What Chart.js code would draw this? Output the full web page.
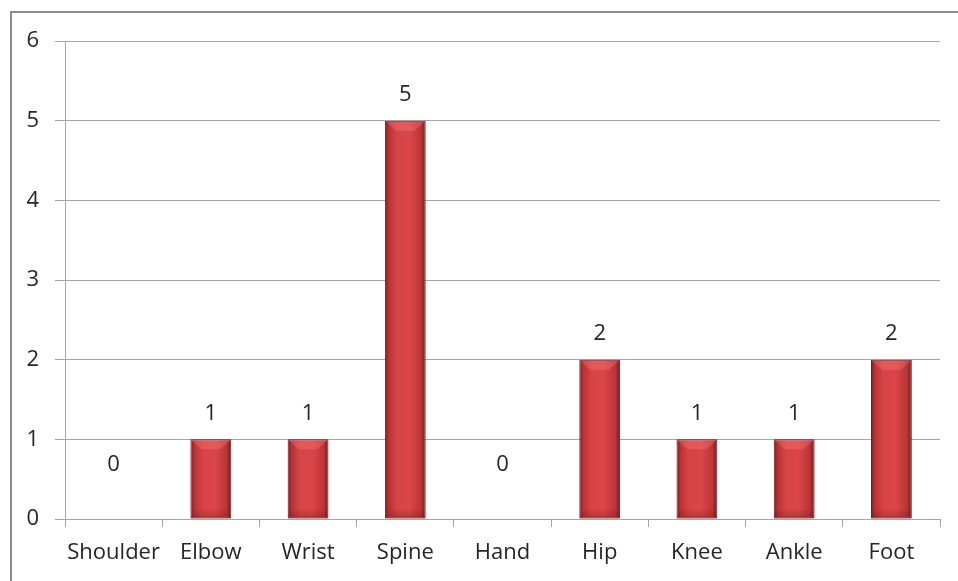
<!DOCTYPE html>
<html>
<head>
<meta charset="utf-8">
<script src="https://cdn.jsdelivr.net/npm/chart.js@4.4.1/dist/chart.umd.min.js"></script>
<style>
  html, body { margin: 0; padding: 0; background: #ffffff; }
  #wrap { position: relative; width: 958px; height: 581px; }
  canvas { display: block; }
</style>
</head>
<body>
<div id="wrap"><canvas id="c" width="958" height="581"></canvas></div>
<script>
// Fracture counts by body region
const categories = ['Shoulder', 'Elbow', 'Wrist', 'Spine', 'Hand', 'Hip', 'Knee', 'Ankle', 'Foot'];
const counts = [0, 1, 1, 5, 0, 2, 1, 1, 2];
const yTicks = [0, 1, 2, 3, 4, 5, 6];

const FONT = '"Open Sans", "DejaVu Sans", sans-serif';
const FONT_SIZE = 22;
const TEXT = '#262626';
const GRID = '#a6a6a6';
const BAR_PCT = 0.42;

// Outer frame (top and left edges of the chart box)
const framePlugin = {
  id: 'frame',
  beforeDraw(chart) {
    const ctx = chart.ctx;
    ctx.save();
    ctx.fillStyle = '#ffffff';
    ctx.fillRect(0, 0, chart.width, chart.height);
    ctx.strokeStyle = '#8c8c8c';
    ctx.lineWidth = 2;
    ctx.beginPath();
    ctx.moveTo(11, chart.height + 2);
    ctx.lineTo(11, 12);
    ctx.lineTo(chart.width + 2, 12);
    ctx.stroke();
    ctx.restore();
  }
};

// Horizontal shading across each bar, darker at the edges
function barFill(context) {
  const chart = context.chart;
  const xs = chart.scales.x;
  if (!xs || xs.width === undefined) return '#c0393b';
  const cx = xs.getPixelForValue(context.dataIndex);
  const w = xs.width / categories.length * BAR_PCT;
  const l = cx - w / 2, r = cx + w / 2;
  const g = chart.ctx.createLinearGradient(l, 0, r, 0);
  g.addColorStop(0, '#841a1c');
  g.addColorStop(0.1, '#b83436');
  g.addColorStop(0.3, '#d64446');
  g.addColorStop(0.6, '#db4648');
  g.addColorStop(0.88, '#bb3537');
  g.addColorStop(1, '#7e1719');
  return g;
}

// Bevelled top and darker base on each bar
const bevelPlugin = {
  id: 'bevel',
  afterDatasetsDraw(chart) {
    const ctx = chart.ctx;
    const meta = chart.getDatasetMeta(0);
    meta.data.forEach(el => {
      const h = el.base - el.y;
      if (h < 2) return;
      const l = el.x - el.width / 2, r = el.x + el.width / 2;
      ctx.save();
      const bev = Math.min(10, h / 3);
      ctx.fillStyle = 'rgba(255,150,150,0.25)';
      ctx.beginPath();
      ctx.moveTo(l + 1, el.y + 1);
      ctx.lineTo(r - 1, el.y + 1);
      ctx.lineTo(r - 1 - bev, el.y + bev);
      ctx.lineTo(l + 1 + bev, el.y + bev);
      ctx.closePath();
      ctx.fill();
      const gb = ctx.createLinearGradient(0, el.base - 10, 0, el.base);
      gb.addColorStop(0, 'rgba(90,10,12,0)');
      gb.addColorStop(1, 'rgba(90,10,12,0.3)');
      ctx.fillStyle = gb;
      ctx.fillRect(l + 1, el.base - 10, el.width - 2, 10);
      ctx.restore();
    });
  }
};

// Value labels above bars
const labelPlugin = {
  id: 'valueLabels',
  afterDatasetsDraw(chart) {
    const ctx = chart.ctx;
    const meta = chart.getDatasetMeta(0);
    const ds = chart.data.datasets[0].data;
    ctx.save();
    ctx.font = FONT_SIZE + 'px ' + FONT;
    ctx.fillStyle = TEXT;
    ctx.textAlign = 'center';
    ctx.textBaseline = 'middle';
    meta.data.forEach((el, i) => {
      const y = Math.min(el.y - 26, el.base - 54);
      ctx.fillText(String(ds[i]), el.x, y);
    });
    ctx.restore();
  }
};

new Chart(document.getElementById('c'), {
  type: 'bar',
  data: {
    labels: categories,
    datasets: [{
      data: counts,
      backgroundColor: barFill,
      borderColor: '#761416',
      borderWidth: 1,
      borderSkipped: false,
      barPercentage: BAR_PCT,
      categoryPercentage: 1.0
    }]
  },
  options: {
    responsive: false,
    animation: false,
    devicePixelRatio: 1,
    layout: { padding: { top: 41, right: 18, left: 0, bottom: 0 } },
    plugins: {
      legend: { display: false },
      tooltip: { enabled: false },
      title: { display: false }
    },
    scales: {
      x: {
        offset: true,
        grid: {
          offset: true,
          drawOnChartArea: false,
          drawTicks: true,
          tickLength: 8,
          color: GRID
        },
        border: { display: true, color: GRID, width: 1 },
        ticks: {
          color: TEXT,
          font: { family: FONT, size: FONT_SIZE },
          padding: 13,
          maxRotation: 0,
          autoSkip: false
        },
        afterFit(scale) { scale.height = 62; }
      },
      y: {
        min: 0,
        max: 6,
        afterBuildTicks(scale) { scale.ticks = yTicks.map(v => ({ value: v })); },
        grid: {
          color: GRID,
          tickLength: 10,
          drawTicks: true
        },
        border: { display: true, color: GRID, width: 1 },
        ticks: {
          color: TEXT,
          font: { family: FONT, size: FONT_SIZE },
          padding: 16
        },
        afterFit(scale) { scale.width = 65; }
      }
    }
  },
  plugins: [framePlugin, bevelPlugin, labelPlugin]
});
</script>
</body>
</html>
